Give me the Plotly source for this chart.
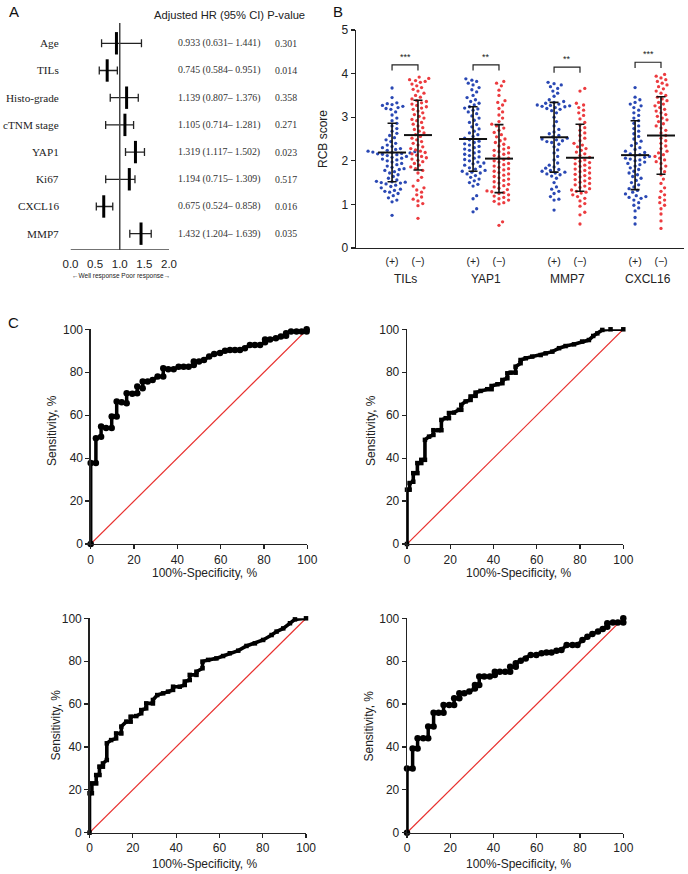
import plotly.graph_objects as go

W, H = 688, 874
OFF = 0  # page body margin is removed below, so the figure starts at the page corner
SANS = "Liberation Sans, Arial, sans-serif"
SERIF = "Liberation Serif, Times New Roman, serif"


def PX(x):
    return (x - OFF) / W


def PY(y):
    return 1 - (y - OFF) / H


# ---------------- Panel A data (forest plot) ----------------
forest_labels = ["Age", "TILs", "Histo-grade", "cTNM stage", "YAP1", "Ki67", "CXCL16", "MMP7"]
forest_hr = [0.933, 0.745, 1.139, 1.105, 1.319, 1.194, 0.675, 1.432]
forest_lo = [0.631, 0.584, 0.807, 0.714, 1.117, 0.715, 0.524, 1.204]
forest_hi = [1.441, 0.951, 1.376, 1.281, 1.502, 1.309, 0.858, 1.639]
forest_p = ["0.301", "0.014", "0.358", "0.271", "0.023", "0.517", "0.016", "0.035"]
forest_ticks = [0.0, 0.5, 1.0, 1.5, 2.0]

# ---------------- Panel B data (RCB score scatter) ----------------
groups = ["TILs", "YAP1", "MMP7", "CXCL16"]
pos_vals = {
    "TILs": [3.67, 3.45, 3.33, 3.31, 3.29, 3.27, 3.25, 3.22, 3.20, 3.18, 3.12, 3.05, 2.98, 2.92, 2.86, 2.80,
             2.74, 2.68, 2.63, 2.58, 2.53, 2.48, 2.44, 2.40, 2.36, 2.33, 2.30, 2.28, 2.26, 2.24, 2.22, 2.21,
             2.20, 2.19, 2.18, 2.17, 2.16, 2.15, 2.14, 2.12, 2.10, 2.08, 2.06, 2.04, 2.02, 2.00, 1.97, 1.94,
             1.91, 1.88, 1.85, 1.82, 1.80, 1.78, 1.75, 1.72, 1.68, 1.64, 1.60, 1.56, 1.53, 1.52, 1.51, 1.50,
             1.49, 1.47, 1.44, 1.41, 1.38, 1.35, 1.32, 1.30, 1.28, 1.25, 1.20, 1.15, 1.10, 1.06, 0.75],
    "YAP1": [3.88, 3.85, 3.82, 3.78, 3.74, 3.68, 3.63, 3.58, 3.50, 3.45, 3.40, 3.36, 3.32, 3.28, 3.24, 3.21,
             3.19, 3.16, 3.12, 3.08, 3.03, 2.98, 2.93, 2.88, 2.83, 2.78, 2.73, 2.68, 2.64, 2.60, 2.56, 2.52,
             2.48, 2.45, 2.42, 2.39, 2.36, 2.33, 2.30, 2.27, 2.24, 2.21, 2.18, 2.15, 2.12, 2.09, 2.06, 2.03,
             2.00, 1.97, 1.95, 1.93, 1.90, 1.87, 1.84, 1.81, 1.78, 1.76, 1.74, 1.72, 1.70, 1.66, 1.62, 1.58,
             1.54, 1.50, 1.46, 1.42, 1.20, 1.13, 0.90, 0.83],
    "MMP7": [3.80, 3.77, 3.74, 3.70, 3.66, 3.60, 3.55, 3.48, 3.40, 3.36, 3.34, 3.32, 3.30, 3.28, 3.27, 3.26,
             3.25, 3.24, 3.22, 3.20, 3.18, 3.15, 3.10, 3.00, 2.90, 2.80, 2.72, 2.66, 2.62, 2.58, 2.55, 2.52,
             2.50, 2.48, 2.46, 2.44, 2.42, 2.38, 2.32, 2.25, 2.18, 2.10, 2.02, 1.95, 1.90, 1.86, 1.83, 1.80,
             1.78, 1.76, 1.74, 1.72, 1.70, 1.68, 1.65, 1.60, 1.50, 1.40, 1.35, 1.30, 1.25, 1.18, 1.12, 1.10, 0.87],
    "CXCL16": [3.68, 3.46, 3.40, 3.34, 3.30, 3.26, 3.22, 3.16, 3.10, 3.04, 2.98, 2.92, 2.86, 2.80, 2.74, 2.68,
               2.62, 2.56, 2.50, 2.45, 2.40, 2.35, 2.30, 2.26, 2.22, 2.19, 2.16, 2.14, 2.12, 2.10, 2.08, 2.06,
               2.04, 2.02, 2.00, 1.97, 1.94, 1.91, 1.88, 1.84, 1.80, 1.76, 1.72, 1.68, 1.64, 1.60, 1.55, 1.50,
               1.45, 1.40, 1.36, 1.32, 1.28, 1.24, 1.20, 1.18, 1.16, 1.14, 1.10, 1.04, 0.98, 0.92, 0.85, 0.70, 0.55],
}
neg_vals = {
    "TILs": [3.92, 3.89, 3.86, 3.84, 3.82, 3.80, 3.76, 3.72, 3.68, 3.64, 3.60, 3.55, 3.50, 3.46, 3.42, 3.38,
             3.36, 3.33, 3.30, 3.27, 3.24, 3.21, 3.18, 3.14, 3.10, 3.06, 3.02, 2.98, 2.95, 2.92, 2.88, 2.84,
             2.80, 2.76, 2.72, 2.68, 2.64, 2.60, 2.56, 2.52, 2.48, 2.44, 2.40, 2.36, 2.32, 2.28, 2.25, 2.22,
             2.19, 2.16, 2.13, 2.10, 2.07, 2.04, 2.01, 1.98, 1.94, 1.90, 1.86, 1.82, 1.78, 1.72, 1.62, 1.55,
             1.42, 1.38, 1.33, 1.28, 1.22, 1.17, 1.12, 1.08, 1.02, 0.97, 0.68],
    "YAP1": [3.82, 3.78, 3.72, 3.62, 3.50, 3.38, 3.34, 3.28, 3.20, 3.12, 3.05, 2.98, 2.90, 2.84, 2.80, 2.75,
             2.70, 2.65, 2.60, 2.55, 2.50, 2.46, 2.42, 2.38, 2.34, 2.30, 2.27, 2.24, 2.21, 2.18, 2.15, 2.12,
             2.09, 2.06, 2.03, 2.00, 1.97, 1.94, 1.91, 1.88, 1.85, 1.82, 1.79, 1.76, 1.73, 1.70, 1.67, 1.64,
             1.61, 1.58, 1.55, 1.52, 1.49, 1.46, 1.43, 1.40, 1.37, 1.34, 1.31, 1.29, 1.27, 1.25, 1.22, 1.19,
             1.16, 1.13, 1.10, 1.07, 1.04, 1.01, 0.60, 0.52],
    "MMP7": [3.66, 3.60, 3.32, 3.28, 3.22, 3.16, 3.10, 3.04, 2.96, 2.88, 2.82, 2.76, 2.70, 2.64, 2.58, 2.52,
             2.46, 2.40, 2.36, 2.32, 2.28, 2.24, 2.20, 2.16, 2.12, 2.08, 2.05, 2.02, 1.99, 1.96, 1.93, 1.90,
             1.87, 1.84, 1.81, 1.78, 1.75, 1.72, 1.69, 1.66, 1.63, 1.60, 1.57, 1.54, 1.51, 1.48, 1.45, 1.42,
             1.39, 1.36, 1.33, 1.30, 1.28, 1.26, 1.22, 1.18, 1.14, 1.08, 1.02, 0.96, 0.82, 0.76, 0.55],
    "CXCL16": [3.98, 3.94, 3.90, 3.86, 3.82, 3.78, 3.74, 3.70, 3.65, 3.60, 3.55, 3.50, 3.46, 3.42, 3.38, 3.34,
               3.30, 3.26, 3.22, 3.18, 3.14, 3.10, 3.06, 3.02, 2.98, 2.94, 2.90, 2.85, 2.80, 2.75, 2.70, 2.64,
               2.58, 2.52, 2.46, 2.40, 2.34, 2.28, 2.22, 2.18, 2.14, 2.10, 2.06, 2.02, 1.98, 1.94, 1.88, 1.82,
               1.75, 1.68, 1.58, 1.48, 1.38, 1.30, 1.22, 1.16, 1.10, 1.04, 0.98, 0.90, 0.78, 0.62, 0.45],
}
pos_mean = [2.19, 2.50, 2.54, 2.13]
pos_sd = [0.67, 0.74, 0.80, 0.79]
neg_mean = [2.59, 2.05, 2.07, 2.58]
neg_sd = [0.80, 0.78, 0.77, 0.89]
sig_labels = ["***", "**", "**", "***"]
sig_height = [4.20, 4.20, 4.15, 4.26]
b_yticks = [0, 1, 2, 3, 4, 5]

# ---------------- Panel C data (ROC curves: (100%-specificity, sensitivity)) ----------------
roc_tl = [(0, 0), (0, 37.7), (2.4, 37.7), (2.4, 49.3), (4.8, 50.0), (4.8, 54.7), (7.1, 54.0), (9.7, 54.0),
          (9.7, 59.4), (12.0, 59.4), (12.0, 66.4), (14.3, 66.0), (16.6, 65.6), (16.6, 70.2), (19.2, 70.0),
          (21.5, 70.2), (21.5, 73.3), (24.0, 72.6), (24.0, 75.7), (26.3, 75.7), (28.6, 76.4), (30.9, 78.0),
          (33.5, 78.0), (33.5, 81.9), (35.8, 81.4), (38.3, 81.4), (40.6, 82.6), (42.9, 82.6), (45.2, 82.6),
          (47.6, 83.4), (47.6, 85.0), (50.0, 85.0), (52.3, 85.7), (54.7, 87.3), (57.0, 88.5), (59.7, 89.0),
          (62.0, 90.0), (64.3, 90.4), (66.6, 90.4), (68.9, 90.4), (71.2, 91.2), (73.5, 92.7), (75.8, 92.7),
          (78.2, 92.7), (80.5, 94.0), (80.5, 95.3), (82.8, 95.3), (85.5, 95.8), (87.8, 96.6), (90.2, 97.0),
          (90.2, 98.2), (92.5, 99.0), (95.0, 99.0), (97.4, 99.0), (99.7, 99.0), (99.7, 100)]
roc_tr = [(0, 0), (0, 25.3), (1.2, 25.3), (1.2, 28.4), (2.9, 29.0), (2.9, 33.0), (4.8, 33.0), (4.8, 37.7),
          (6.6, 37.7), (6.6, 39.2), (8.3, 39.2), (8.3, 48.5), (10.2, 50.0), (12.2, 50.8), (12.2, 53.0),
          (14.5, 53.0), (15.9, 53.0), (15.9, 57.8), (17.9, 58.6), (19.4, 58.6), (19.4, 61.0), (21.7, 61.2),
          (24.0, 62.5), (25.1, 62.5), (25.1, 64.8), (27.1, 66.4), (29.4, 67.1), (29.4, 68.7), (31.7, 69.0),
          (31.7, 70.5), (34.0, 71.3), (37.1, 72.1), (39.1, 72.1), (39.1, 73.6), (41.8, 74.4), (44.1, 74.9),
          (44.1, 76.4), (46.4, 77.2), (46.4, 79.5), (47.9, 79.8), (50.2, 79.8), (50.2, 82.6), (52.5, 84.2),
          (52.5, 85.7), (54.9, 86.5), (57.9, 87.3), (61.8, 88.0), (64.1, 88.8), (67.2, 89.6), (70.3, 91.2),
          (73.3, 92.2), (77.2, 93.0), (81.0, 94.3), (84.1, 95.0), (86.1, 96.9), (88.0, 98.1), (90.3, 99.7),
          (94.1, 100), (100, 100)]
roc_bl = [(0, 0), (0, 18.4), (1.1, 18.4), (1.1, 23.0), (3.1, 23.0), (3.1, 26.9), (4.6, 26.9), (4.6, 30.8),
          (6.2, 30.8), (6.2, 32.3), (8.0, 33.9), (8.0, 41.7), (10.0, 43.2), (12.3, 44.0), (12.3, 46.3),
          (14.7, 46.3), (14.7, 49.5), (17.0, 51.8), (19.0, 51.8), (19.0, 54.1), (21.6, 54.4), (23.9, 55.7),
          (23.9, 57.2), (26.2, 58.0), (26.2, 60.3), (29.3, 60.3), (29.3, 61.9), (31.3, 64.2), (34.0, 65.0),
          (36.3, 65.8), (38.6, 66.6), (38.6, 68.1), (41.7, 68.1), (44.0, 68.9), (44.0, 70.5), (46.3, 71.2),
          (46.3, 73.6), (49.4, 73.6), (49.4, 75.1), (52.2, 76.7), (52.2, 79.8), (54.8, 80.6), (58.6, 81.3),
          (61.7, 82.4), (64.8, 83.7), (68.7, 84.9), (72.5, 87.1), (76.4, 88.3), (80.2, 89.9), (84.1, 92.2),
          (86.4, 93.8), (89.5, 95.3), (92.6, 97.7), (94.9, 99.5), (100, 100)]
roc_br = [(0, 0), (0, 30.0), (2.6, 30.0), (2.6, 39.3), (4.9, 39.3), (4.9, 44.0), (7.5, 44.0), (9.8, 44.0),
          (9.8, 49.5), (12.3, 49.5), (12.3, 56.0), (14.6, 56.0), (16.9, 56.0), (16.9, 59.6), (19.5, 59.6),
          (21.8, 59.6), (21.8, 62.7), (24.2, 62.7), (24.2, 65.0), (26.5, 65.0), (28.8, 65.8), (31.4, 67.3),
          (31.4, 68.9), (33.4, 68.9), (33.4, 72.8), (35.7, 72.8), (38.3, 72.8), (40.6, 73.6), (40.6, 75.1),
          (42.9, 75.1), (45.4, 75.1), (47.7, 75.1), (47.7, 77.4), (50.3, 77.4), (50.3, 79.0), (52.6, 80.2),
          (54.9, 81.3), (57.2, 82.9), (59.8, 82.9), (62.2, 83.7), (64.5, 84.0), (66.8, 84.0), (69.1, 84.9),
          (71.4, 85.2), (73.8, 87.6), (76.5, 87.6), (78.8, 87.6), (81.1, 89.9), (83.4, 91.4), (85.7, 92.7),
          (88.3, 93.8), (90.5, 95.0), (92.6, 96.1), (92.6, 97.7), (95.2, 98.0), (97.5, 98.0), (100, 98.0),
          (100, 100)]
roc_ticks = [0, 20, 40, 60, 80, 100]

fig = go.Figure()

# ================= Panel A =================
rows = list(range(len(forest_labels)))
fig.add_trace(go.Scatter(
    x=forest_hr, y=rows, mode="markers", xaxis="x", yaxis="y", cliponaxis=False, showlegend=False,
    marker=dict(symbol="line-ns", size=16, line=dict(width=3, color="black")),
    error_x=dict(type="data", symmetric=False,
                 array=[h - m for h, m in zip(forest_hi, forest_hr)],
                 arrayminus=[m - l for m, l in zip(forest_hr, forest_lo)],
                 thickness=1.3, width=4, color="#222")))

y_top, y_bot = -0.746, 7.6
shapes = [
    dict(type="line", xref="x", yref="y", x0=1, x1=1, y0=y_top, y1=y_bot, line=dict(color="#444", width=1.5)),
    dict(type="line", xref="x", yref="y", x0=0, x1=2, y0=y_bot, y1=y_bot, line=dict(color="#444", width=1.5)),
]
annotations = []
for r, lab, hr, lo, hi, p in zip(rows, forest_labels, forest_hr, forest_lo, forest_hi, forest_p):
    annotations.append(dict(x=PX(61), y=r, xref="paper", yref="y", text=lab, showarrow=False,
                            xanchor="right", yanchor="middle", font=dict(family=SERIF, size=11.2, color="#222")))
    annotations.append(dict(x=PX(176), y=r, xref="paper", yref="y",
                            text=f"{hr:.3f} ({lo:.3f}\u2013 {hi:.3f})", showarrow=False,
                            xanchor="left", yanchor="middle", font=dict(family=SERIF, size=9.8, color="#333")))
    annotations.append(dict(x=PX(273), y=r, xref="paper", yref="y", text=p, showarrow=False,
                            xanchor="left", yanchor="middle", font=dict(family=SERIF, size=9.8, color="#333")))
annotations.append(dict(x=PX(152), y=PY(15), xref="paper", yref="paper", text="Adjusted HR (95% CI) P-value",
                        showarrow=False, xanchor="left", yanchor="middle",
                        font=dict(family=SANS, size=11.2, color="#222")))
annotations.append(dict(x=PX(121), y=PY(276), xref="paper", yref="paper",
                        text="\u2190Well response Poor response\u2192",
                        showarrow=False, xanchor="center", yanchor="middle",
                        font=dict(family=SANS, size=6.5, color="#222")))

# panel letters
for letter, lx, ly in [("A", 7, 11), ("B", 331, 11), ("C", 6, 322)]:
    annotations.append(dict(x=PX(lx), y=PY(ly), xref="paper", yref="paper", text=letter, showarrow=False,
                            xanchor="left", yanchor="middle", font=dict(family=SANS, size=15, color="#111")))

# ================= Panel B =================
B_XPX = 81.0   # px per x unit
B_YPX = 43.6   # px per y unit
half = 0.16
plus_x = [g - half for g in range(len(groups))]
minus_x = [g + half for g in range(len(groups))]


def beeswarm(vals, d=4.6, step=1.2):
    order = sorted(range(len(vals)), key=lambda i: vals[i])
    placed = []
    offs = [0.0] * len(vals)
    cands = [0.0]
    for k in range(1, 40):
        cands += [k * step, -k * step]
    for i in order:
        y = vals[i] * B_YPX
        for c in cands:
            ok = True
            for (py, px) in placed:
                dy = y - py
                if abs(dy) < d and (px - c) ** 2 + dy ** 2 < d * d:
                    ok = False
                    break
            if ok:
                offs[i] = c
                break
        placed.append((y, offs[i]))
    return [o / B_XPX for o in offs]


BLUE = "#2a48b4"
RED = "#ec3b3f"
for gi, g in enumerate(groups):
    for vals, cx, col in [(pos_vals[g], plus_x[gi], BLUE), (neg_vals[g], minus_x[gi], RED)]:
        offs = beeswarm(vals)
        fig.add_trace(go.Scatter(x=[cx + o for o in offs], y=vals, mode="markers", xaxis="x2", yaxis="y2",
                                 showlegend=False, cliponaxis=False,
                                 marker=dict(size=3.3, color=col, line=dict(width=0))))

fig.add_trace(go.Scatter(x=plus_x + minus_x, y=pos_mean + neg_mean, mode="markers", xaxis="x2", yaxis="y2",
                         showlegend=False, cliponaxis=False,
                         marker=dict(symbol="line-ew", size=20, line=dict(width=2, color="#111")),
                         error_y=dict(type="data", array=pos_sd + neg_sd, thickness=1.6, width=4.5, color="#111")))

for gi in range(len(groups)):
    top = sig_height[gi]
    leg = top - 0.13
    shapes.append(dict(type="path", xref="x2", yref="y2",
                       path=f"M {plus_x[gi]},{leg} L {plus_x[gi]},{top} L {minus_x[gi]},{top} L {minus_x[gi]},{leg}",
                       line=dict(color="#222", width=1.2)))
    annotations.append(dict(x=gi, y=top + 0.02, xref="x2", yref="y2", text=sig_labels[gi], showarrow=False,
                            xanchor="center", yanchor="bottom", font=dict(family=SANS, size=9, color="#222")))
    annotations.append(dict(x=gi, y=PY(278.5), xref="x2", yref="paper", text=groups[gi], showarrow=False,
                            xanchor="center", yanchor="middle", font=dict(family=SANS, size=12, color="#222")))
annotations.append(dict(x=PX(323), y=PY(139), xref="paper", yref="paper", text="RCB score", textangle=-90,
                        showarrow=False, xanchor="center", yanchor="middle",
                        font=dict(family=SANS, size=12, color="#222")))

# ================= Panel C =================
roc_sets = [
    (roc_tl, "x3", "y3", 6.5, 3.5, "circle"),
    (roc_tr, "x4", "y4", 4.5, 3.6, "square"),
    (roc_bl, "x5", "y5", 4.5, 3.6, "square"),
    (roc_br, "x6", "y6", 6.5, 3.5, "circle"),
]
for pts, xa, ya, ms, lw, sym in roc_sets:
    fig.add_trace(go.Scatter(x=[0, 100], y=[0, 100], mode="lines", xaxis=xa, yaxis=ya, showlegend=False,
                             line=dict(color="#e8312f", width=1.2), cliponaxis=False))
    fig.add_trace(go.Scatter(x=[p[0] for p in pts], y=[p[1] for p in pts], mode="lines+markers",
                             xaxis=xa, yaxis=ya, showlegend=False, cliponaxis=False,
                             line=dict(color="black", width=lw),
                             marker=dict(size=ms, color="black", symbol=sym)))

# axis titles of the ROC panels (x-centre, y-centre in page px)
roc_xtitles = [(204.5, 572.5), (518, 572.5), (204.5, 864), (518, 864)]
roc_ytitles = [(52, 431), (371, 431), (55, 725.5), (368, 725.5)]
for (tx, ty) in roc_xtitles:
    annotations.append(dict(x=PX(tx), y=PY(ty), xref="paper", yref="paper", text="100%-Specificity, %",
                            showarrow=False, xanchor="center", yanchor="middle",
                            font=dict(family=SANS, size=12, color="#222")))
for (tx, ty) in roc_ytitles:
    annotations.append(dict(x=PX(tx), y=PY(ty), xref="paper", yref="paper", text="Sensitivity, %",
                            textangle=-90, showarrow=False, xanchor="center", yanchor="middle",
                            font=dict(family=SANS, size=12, color="#222")))

# ================= Layout =================
tickfont = dict(family=SANS, size=12, color="#222")
layout = dict(
    template="none",
    width=W, height=H, autosize=False, margin=dict(l=0, r=0, t=0, b=0, pad=0),
    paper_bgcolor="white", plot_bgcolor="white", showlegend=False, hovermode=False,
    font=dict(family=SANS, color="#222"),
    shapes=shapes, annotations=annotations,
    xaxis=dict(domain=[PX(70.5), PX(169)], range=[0, 2], anchor="y", showline=False, showgrid=False,
               zeroline=False, automargin=False, tickvals=forest_ticks,
               ticktext=[f"{t:.1f}" for t in forest_ticks],
               ticks="outside", ticklen=3, tickcolor="rgba(0,0,0,0)",
               tickfont=dict(family=SANS, size=11.5, color="#222")),
    yaxis=dict(domain=[PY(250), PY(23)], range=[y_bot, y_top], anchor="x", visible=False, automargin=False),
    xaxis2=dict(domain=[PX(356), PX(684)], range=[-0.605, 3.444], anchor="y2", showline=True,
                linecolor="#222", linewidth=1.3, showgrid=False, zeroline=False, automargin=False,
                tickvals=plus_x + minus_x, ticktext=["(+)"] * 4 + ["(\u2212)"] * 4,
                ticks="outside", ticklen=3, tickcolor="rgba(0,0,0,0)",
                tickfont=dict(family=SANS, size=10.5, color="#222")),
    yaxis2=dict(domain=[PY(248), PY(30)], range=[0, 5], anchor="x2", showline=True, linecolor="#222",
                linewidth=1.3, showgrid=False, zeroline=False, automargin=False, tickvals=b_yticks,
                ticks="outside", ticklen=4, tickwidth=1.2, tickcolor="#222", tickfont=tickfont),
)
roc_dom = {
    "3": ([90.7, 307.3], [329.3, 544]),
    "4": ([407, 623.3], [329.3, 544]),
    "5": ([89.5, 306], [618.3, 832.7]),
    "6": ([407, 623.3], [618.3, 832.7]),
}
for k, (xd, yd) in roc_dom.items():
    common = dict(showline=True, linecolor="#222", linewidth=1.3, showgrid=False, zeroline=False,
                  automargin=False, range=[0, 100], tickvals=roc_ticks, ticks="outside", ticklen=4,
                  tickwidth=1.2, tickcolor="#222", tickfont=tickfont)
    layout["xaxis" + k] = dict(domain=[PX(xd[0]), PX(xd[1])], anchor="y" + k, **common)
    layout["yaxis" + k] = dict(domain=[PY(yd[1]), PY(yd[0])], anchor="x" + k, **common)

fig.update_layout(**layout)
fig.write_html("out.html", config={"displayModeBar": False, "staticPlot": True},
               post_script="document.body.style.margin='0px';document.body.style.padding='0px';")
